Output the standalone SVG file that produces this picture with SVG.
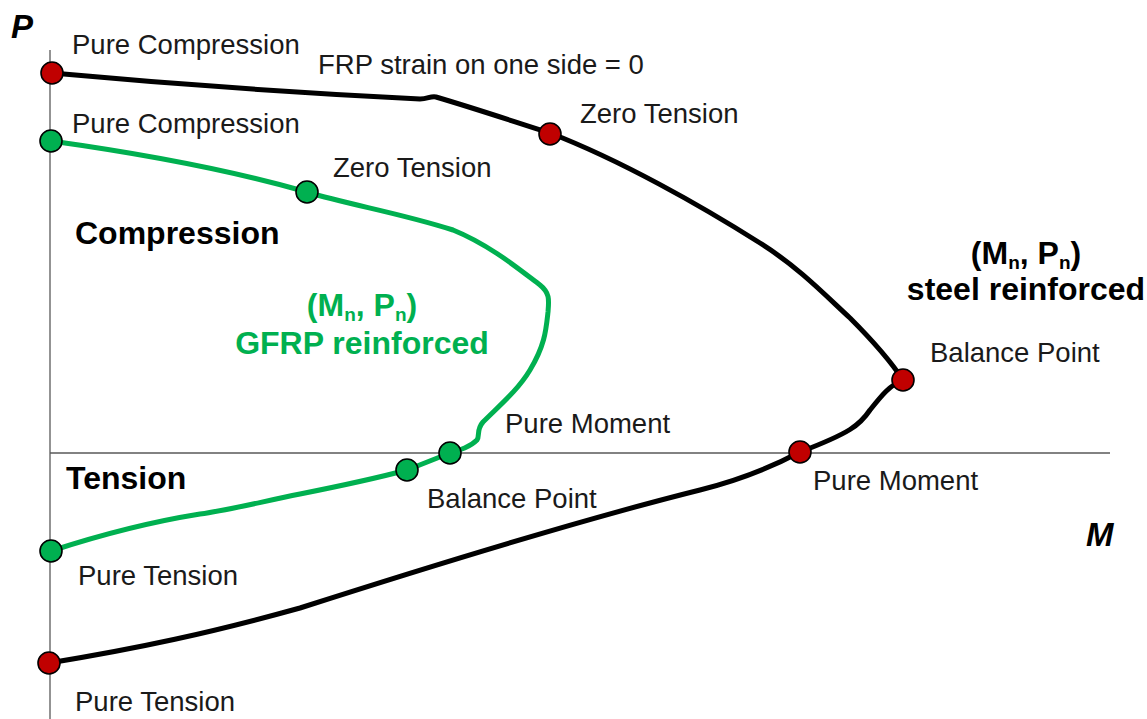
<svg xmlns="http://www.w3.org/2000/svg" width="1147" height="719" viewBox="0 0 1147 719">
<style>
.t{font-family:"Liberation Sans",Arial,sans-serif;font-size:27.5px;fill:#1a1a1a}
.b{font-family:"Liberation Sans",Arial,sans-serif;font-size:32px;font-weight:bold}
.ax{font-family:"Liberation Sans",Arial,sans-serif;font-size:33px;font-weight:bold;font-style:italic;fill:#000}
.axis{stroke:#595959;stroke-width:1.3;fill:none}
.cb{stroke:#000;stroke-width:5;fill:none;stroke-linejoin:round;stroke-linecap:round}
.cg{stroke:#00B050;stroke-width:5;fill:none;stroke-linejoin:round;stroke-linecap:round}
.r{fill:#C00000;stroke:#000;stroke-width:1.6}
.g{fill:#00B050;stroke:#000;stroke-width:1.6}
.sub{font-size:19px}
</style>
<rect width="1147" height="719" fill="#fff"/>
<g id="axes">
<line class="axis" x1="50" y1="50" x2="50" y2="719"/>
<line class="axis" x1="50" y1="453" x2="1110" y2="453"/>
<text class="ax" x="11" y="38">P</text>
<text class="ax" x="1086" y="546">M</text>
</g>
<g id="connectors">
<path class="cb" d="M52,73 C150,82 300,93 420,99 C428,99 430,96 436,97 C480,110 515,122 550,133 C620,160 700,205 760,243 C800,268 830,300 850,318 C870,338 888,357 903,380"/>
<path class="cb" d="M903,380 C890,385 882,395 870,410 C860,425 850,433 800,452 C770,468 740,480 700,490 C600,515 450,560 300,608 C210,633 140,648 49,663"/>
<path class="cg" d="M51,141 C130,152 230,170 307,192 C350,205 400,213 453,230 C490,245 520,270 540,285 C550,293 549,300 548,312 C546,330 545,345 530,370 C518,390 500,405 483,422 C476,430 480,436 477,440 C470,447 460,450 450,453 C435,459 420,465 407,470 C370,480 330,488 300,494 C260,502 230,510 200,514 C150,522 100,535 51,551"/>
</g>
<g id="steel">
<circle id="s-pc" class="r" cx="52" cy="73" r="11"/>
<circle id="s-zt" class="r" cx="550" cy="134" r="11"/>
<circle id="s-bp" class="r" cx="903" cy="380" r="11"/>
<circle id="s-pm" class="r" cx="800" cy="452" r="11"/>
<circle id="s-pt" class="r" cx="49" cy="663" r="11"/>
</g>
<g id="gfrp">
<circle id="g-pc" class="g" cx="51" cy="141" r="11"/>
<circle id="g-zt" class="g" cx="307" cy="192" r="11"/>
<circle id="g-pm" class="g" cx="450" cy="453" r="11"/>
<circle id="g-bp" class="g" cx="407" cy="470" r="11"/>
<circle id="g-pt" class="g" cx="51" cy="551" r="11"/>
</g>
<g id="labels">
<text class="t" x="72" y="54">Pure Compression</text>
<text class="t" x="318" y="74">FRP strain on one side = 0</text>
<text class="t" x="72" y="133">Pure Compression</text>
<text class="t" x="580" y="123">Zero Tension</text>
<text class="t" x="333" y="177">Zero Tension</text>
<text class="b" x="75" y="244" font-size="31">Compression</text>
<text class="b" x="66" y="489" font-size="31">Tension</text>
<text class="t" x="930" y="362">Balance Point</text>
<text class="t" x="505" y="433">Pure Moment</text>
<text class="t" x="427" y="508">Balance Point</text>
<text class="t" x="813" y="490">Pure Moment</text>
<text class="t" x="78" y="585">Pure Tension</text>
<text class="t" x="75" y="711">Pure Tension</text>
</g>
<g id="gfrp-label" fill="#00B050">
<text class="b" x="362" y="316" text-anchor="middle">(M<tspan class="sub" dy="5">n</tspan><tspan dy="-5">, P</tspan><tspan class="sub" dy="5">n</tspan><tspan dy="-5">)</tspan></text>
<text class="b" x="362" y="354" text-anchor="middle">GFRP reinforced</text>
</g>
<g id="steel-label" fill="#000">
<text class="b" x="1026" y="264" text-anchor="middle">(M<tspan class="sub" dy="5">n</tspan><tspan dy="-5">, P</tspan><tspan class="sub" dy="5">n</tspan><tspan dy="-5">)</tspan></text>
<text class="b" x="1026" y="300" text-anchor="middle">steel reinforced</text>
</g>
</svg>
